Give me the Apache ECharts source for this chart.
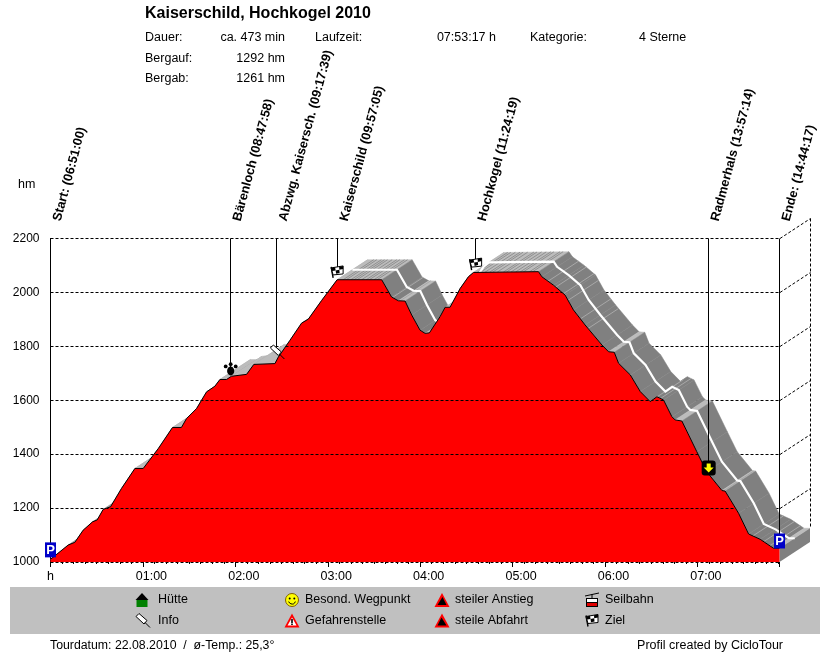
<!DOCTYPE html>
<html><head><meta charset="utf-8">
<style>html,body{margin:0;padding:0;background:#fff}#c{width:830px;height:652px}</style>
<script src="https://cdn.jsdelivr.net/npm/echarts@6/dist/echarts.min.js"></script>
</head><body><div id="c"></div>
<script>
// ---- data ----
const profileMinutes=[0,11.5,15.8,21.2,27.3,30.3,34.2,39,46.1,54.8,60.2,70,79.2,85,88.3,94.8,101.3,106.7,110,114.3,117.5,127.3,132,145.7,147.9,155.4,163,167.4,176,186.1,215,221.4,225.8,230.2,234.5,239.9,243.2,246,252.9,256.2,259.4,266,271.3,274.6,316.8,319,326.5,334.1,339.5,347.1,358,362.3,366,368.8,376.4,382.9,389.3,393.7,398,403.4,405.5,409.9,419.6,426,435.9,438,446.7,453.2,460.8,469.4,473.28];
const profileHeights=[1010,1063,1073,1118,1149,1156,1195,1205,1273,1347,1347,1421,1499,1499,1532,1569,1631,1652,1677,1677,1689,1696,1733,1736,1760,1822,1886,1901,1970,2047,2047,1983,1969,1968,1916,1860,1848,1850,1910,1945,1945,2015,2058,2074,2077,2058,2027,1990,1935,1879,1805,1780,1778,1737,1694,1632,1595,1613,1601,1539,1527,1523,1409,1335,1265,1263,1181,1104,1084,1051,1051];
const darkStripeMinutes=[190,192,195,197,199,202,205,207,210,212,277,279,282,285,287,290,294,296,299,302,305,307,311,313];
const lightStripeMinutes=[222,227,323,328,333,336,344,349,391,396,437,456,463,467];
const markerNames=['Start: (06:51:00)','Bärenloch (08:47:58)','Abzwg. Kaisersch. (09:17:39)','Kaiserschild (09:57:05)','Hochkogel (11:24:19)','Radmerhals (13:57:14)','Ende: (14:44:17)'];
const markerMinutes=[0,116.97,146.65,186.08,276,427.3,473.28];
const markerHeights=[1045,1716,1779,2076,2105,1349,1078];
const markerIcons=['park','paw','info','flag','flag','arrow','park'];
const hmTicks=[1000,1200,1400,1600,1800,2000,2200];
const timeLabels=['h','01:00','02:00','03:00','04:00','05:00','06:00','07:00'];
const legendRow1=[['house','Hütte'],['smiley','Besond. Wegpunkt'],['up','steiler Anstieg'],['cable','Seilbahn']];
const legendRow2=[['info','Info'],['danger','Gefahrenstelle'],['down','steile Abfahrt'],['flag','Ziel']];
const tourTitle='Kaiserschild, Hochkogel 2010';
const footerLeft='Tourdatum: 22.08.2010  /  ø-Temp.: 25,3°';
const footerRight='Profil created by CicloTour';

// ---- helpers ----
const FONT='"Liberation Sans",Arial,sans-serif';
const OFF=[30.5,-20];
function heightAt(t){
  for(let i=0;i<profileMinutes.length-1;i++){
    if(t<=profileMinutes[i+1]){
      const f=(t-profileMinutes[i])/(profileMinutes[i+1]-profileMinutes[i]);
      return profileHeights[i]+f*(profileHeights[i+1]-profileHeights[i]);
    }
  }
  return profileHeights[profileHeights.length-1];
}
function T(x,y,text,o){o=o||{};return {type:'text',x:x,y:y,silent:true,z:o.z||10,rotation:o.rot||0,style:{text:text,fill:o.fill||'#000',font:(o.bold?'bold ':'')+(o.size||12.5)+'px '+FONT,align:o.align||'left',textAlign:o.align||'left',verticalAlign:o.va||'middle',textVerticalAlign:o.va||'middle'}};}
function poly(pts,fill,stroke,lw){return {type:'polygon',shape:{points:pts},style:{fill:fill,stroke:stroke||null,lineWidth:lw||1}};}
function rect(x,y,w,h,fill,r){return {type:'rect',shape:{x:x,y:y,width:w,height:h,r:r||0},style:{fill:fill}};}
function circ(x,y,r,fill,stroke){return {type:'circle',shape:{cx:x,cy:y,r:r},style:{fill:fill,stroke:stroke||null,lineWidth:1}};}
function seg(a,b,c,d,col,lw){return {type:'line',shape:{x1:a,y1:b,x2:c,y2:d},style:{stroke:col||'#000',lineWidth:lw||1}};}
function icon(kind){
  switch(kind){
    case 'park': return [rect(-5.5,-7.5,11,15,'#0000c8'),T(0,0.5,'P',{fill:'#fff',bold:true,size:13,align:'center'})];
    case 'paw': return [{type:'ellipse',shape:{cx:0,cy:2,rx:3.6,ry:4.4},style:{fill:'#000'}},circ(-5,-2.6,1.9,'#000'),circ(0,-4.8,1.9,'#000'),circ(5,-2.6,1.9,'#000')];
    case 'info': return [poly([[-6,-4],[-3,-7],[5,0],[2,3.5]],'#fff','#000'),seg(3,2,8,7,'#000')];
    case 'flag': return [seg(-4,6,-6,-5,'#000',1.4),poly([[-6,-4],[6,-6],[6,2],[-4,3]],'#fff','#000'),poly([[-6,-4],[-2,-4.7],[-1.5,-1.5],[-5,-1]],'#000'),poly([[2,-5.3],[6,-6],[6,-3],[2.2,-2.2]],'#000'),poly([[-1.5,-1.5],[2.2,-2.2],[2.5,1],[-1,1.8]],'#000')];
    case 'arrow': return [rect(-7,-7.5,14,15,'#000',3),poly([[-2,-4.5],[2,-4.5],[2,-0.5],[5,-0.5],[0,4.5],[-5,-0.5],[-2,-0.5]],'#ffff00')];
    case 'house': return [poly([[0,-7],[6.5,0],[-6.5,0]],'#000'),rect(-5.5,0,11,7,'#008000')];
    case 'smiley': return [circ(0,0,6.5,'#ffff00','#806000'),circ(-2.3,-1.5,1,'#000'),circ(2.3,-1.5,1,'#000'),{type:'arc',shape:{cx:0,cy:0.5,r:3.5,startAngle:0.3,endAngle:2.84},style:{stroke:'#000',fill:null,lineWidth:1}}];
    case 'danger': return [poly([[0,-7],[7.5,7],[-7.5,7]],'#ff0000'),poly([[0,-3],[4.5,5],[-4.5,5]],'#fff'),rect(-0.8,-1.5,1.6,4,'#000'),rect(-0.8,3,1.6,1.5,'#000')];
    case 'up': return [poly([[0,-7],[7.5,7],[-7.5,7]],'#ff0000'),poly([[0.5,-3],[4.5,5],[-4.5,5]],'#000')];
    case 'down': return [poly([[0,-7],[7.5,7],[-7.5,7]],'#ff0000'),poly([[-0.5,-3],[4.5,5],[-4.5,5]],'#000')];
    case 'cable': return [seg(-7,-4,7,-7,'#000'),seg(0,-6,0,-2,'#000'),rect(-6,-2,12,9,'#000'),rect(-5,-1,10,3,'#fff'),rect(-5,3,10,3,'#e00000')];
  }
  return [];
}
const dataIdx=profileMinutes.map((t,i)=>[t,profileHeights[i],i]);

// ---- graphic elements ----
const gfx=[
  rect(10,587,810,47,'#c0c0c0'),
  T(145,13.5,tourTitle,{bold:true,size:16}),
  T(145,38,'Dauer:'),T(285,38,'ca. 473 min',{align:'right'}),T(315,38,'Laufzeit:'),T(496,38,'07:53:17 h',{align:'right'}),T(530,38,'Kategorie:'),T(639,38,'4 Sterne'),
  T(145,58.5,'Bergauf:'),T(285,58.5,'1292 hm',{align:'right'}),
  T(145,78.5,'Bergab:'),T(285,78.5,'1261 hm',{align:'right'}),
  T(18,184.5,'hm'),
  T(50,646,footerLeft,{size:12.3}),T(783,646,footerRight,{align:'right'})
];
const legIconX=[142,292,442,592], legTextX=[158,305,455,605];
[[legendRow1,600],[legendRow2,620.5]].forEach(function(r){
  r[0].forEach(function(it,i){
    gfx.push({type:'group',x:legIconX[i],y:r[1],silent:true,z:10,children:icon(it[0])});
    gfx.push(T(legTextX[i],r[1],it[1]));
  });
});

const option={
  animation:false,backgroundColor:'#fff',
  grid:{left:50.5,top:238.5,width:729,height:323.5,containLabel:false},
  xAxis:{type:'value',min:0,max:473.28,interval:60,z:0,
    axisLine:{show:false},
    axisTick:{show:true,length:5,lineStyle:{color:'#000'}},
    minorTick:{show:true,splitNumber:8,length:2,lineStyle:{color:'#000'}},
    splitLine:{show:false},
    axisLabel:{show:true,showMaxLabel:false,hideOverlap:false,margin:8,color:'#000',fontSize:12.5,fontFamily:'"Liberation Sans"',
      padding:[0,0,0,17],
      formatter:function(v){const l=timeLabels[Math.round(v/60)];return v===0?'{h|'+l+'}':(l||'');},
      rich:{h:{padding:[0,17,0,0],fontSize:12.5,color:'#000',fontFamily:'"Liberation Sans"'}}}},
  yAxis:{type:'value',min:hmTicks[0],max:hmTicks[hmTicks.length-1],interval:200,z:0,
    axisLine:{show:true,lineStyle:{color:'#000',width:1}},axisTick:{show:false},
    splitLine:{show:true,lineStyle:{color:'#000',type:[3,2],width:1}},
    axisLabel:{margin:11,color:'#000',fontSize:12,fontFamily:'"Liberation Sans"',formatter:function(v){return String(v);}}},
  graphic:{elements:gfx},
  series:[
    {type:'custom',name:'wall',z:1,silent:true,coordinateSystem:'cartesian2d',data:hmTicks.slice(1).map(h=>[473.28,h]),encode:{x:0,y:1},
     renderItem:function(p,api){
       const a=api.coord([api.value(0),api.value(1)]);
       const y=Math.round(a[1])+0.5,x=a[0]+0.5;
       const st={stroke:'#000',lineDash:[3,2],lineWidth:1};
       const ch=[{type:'line',shape:{x1:x,y1:y,x2:x+OFF[0],y2:y+OFF[1]},style:st}];
       if(p.dataIndex===hmTicks.length-2){
         const b=api.coord([473.28,profileHeights[profileHeights.length-1]]);
         ch.push({type:'line',shape:{x1:x+OFF[0],y1:y+OFF[1],x2:x+OFF[0],y2:b[1]+OFF[1]},style:st});
       }
       return {type:'group',children:ch};
     }},
    {type:'custom',name:'ribbon',z:2,silent:true,coordinateSystem:'cartesian2d',data:dataIdx,encode:{x:0,y:1},
     renderItem:function(p,api){
       const i=p.dataIndex;
       if(i===profileMinutes.length-1){
         const a=api.coord([profileMinutes[i],profileHeights[i]]),b=api.coord([profileMinutes[i],hmTicks[0]]);
         return poly([a,[a[0]+OFF[0],a[1]+OFF[1]],[b[0]+OFF[0],b[1]+OFF[1]],b],'#808080');
       }
       const a=api.coord([profileMinutes[i],profileHeights[i]]),b=api.coord([profileMinutes[i+1],profileHeights[i+1]]);
       const s=(profileHeights[i+1]-profileHeights[i])/(profileMinutes[i+1]-profileMinutes[i]);
       const col=Math.abs(s)<1?'#bcbcbc':(s<-2?'#808080':'#a0a0a0');
       return poly([a,b,[b[0]+OFF[0],b[1]+OFF[1]],[a[0]+OFF[0],a[1]+OFF[1]]],col,col,0.5);
     }},
    {type:'custom',name:'stripes',z:2,silent:true,coordinateSystem:'cartesian2d',
     data:darkStripeMinutes.map(t=>[t,heightAt(t),0]).concat(lightStripeMinutes.map(t=>[t,heightAt(t),1])),encode:{x:0,y:1},
     renderItem:function(p,api){
       const a=api.coord([api.value(0),api.value(1)]);
       const light=api.value(2)===1;
       return {type:'line',shape:{x1:a[0],y1:a[1],x2:a[0]+OFF[0],y2:a[1]+OFF[1]},style:{stroke:light?'#a8a8a8':'#909090',lineWidth:1}};
     }},
    {type:'custom',name:'midline',z:2,silent:true,coordinateSystem:'cartesian2d',data:[[186.1,2047]],encode:{x:0,y:1},
     renderItem:function(p,api){
       const pts=[];
       profileMinutes.forEach(function(t,i){ if(t>=186){const c=api.coord([t,profileHeights[i]]);pts.push([c[0]+OFF[0]/2,c[1]+OFF[1]/2]);}});
       return {type:'polyline',shape:{points:pts},style:{stroke:'#fff',lineWidth:2.2,fill:null}};
     }},
    {type:'line',name:'profile',z:3,silent:true,data:profileMinutes.map((t,i)=>[t,profileHeights[i]]),showSymbol:false,smooth:false,
     lineStyle:{color:'#000',width:1},itemStyle:{color:'#000'},areaStyle:{color:'#ff0000',opacity:1,origin:'start'}},
    {type:'custom',name:'gridOverRed',z:4,silent:true,coordinateSystem:'cartesian2d',data:hmTicks.slice(1).map(h=>[0,h]),encode:{x:0,y:1},
     renderItem:function(p,api){
       const h=api.value(1),ch=[];let start=null;
       for(let i=0;i<profileMinutes.length-1;i++){
         const h0=profileHeights[i],h1=profileHeights[i+1],t0=profileMinutes[i],t1=profileMinutes[i+1];
         if(h0<h&&h1>=h) start=t0+(h-h0)/(h1-h0)*(t1-t0);
         if(h0>=h&&h1<h&&start!==null){
           const e=t0+(h-h0)/(h1-h0)*(t1-t0);
           const a=api.coord([start,h]),b=api.coord([e,h]),y=Math.round(a[1])+0.5;
           ch.push({type:'line',shape:{x1:a[0],y1:y,x2:b[0],y2:y},style:{stroke:'#000',lineWidth:1,lineDash:[3,2],lineDashOffset:(a[0]-50.5)%5}});
           start=null;
         }
       }
       return {type:'group',children:ch};
     }},
    {type:'custom',name:'markers',z:5,silent:true,coordinateSystem:'cartesian2d',clip:false,
     data:markerMinutes.map((t,i)=>[t,markerHeights[i],i]),encode:{x:0,y:1},
     renderItem:function(p,api){
       const i=api.value(2),c=api.coord([api.value(0),api.value(1)]),top=api.coord([api.value(0),hmTicks[hmTicks.length-1]]);
       const x=Math.round(c[0]-0.5)+0.5;
       const ch=[seg(x,top[1],x,c[1],'#000'),
         {type:'group',x:c[0],y:c[1],children:icon(markerIcons[i])},
         T(x+13,222.5,markerNames[i],{bold:true,size:12.8,rot:75*Math.PI/180,va:'bottom'})];
       return {type:'group',children:ch};
     }}
  ]
};
const chart=echarts.init(document.getElementById('c'),null,{renderer:'canvas'});
chart.setOption(option);
</script></body></html>
